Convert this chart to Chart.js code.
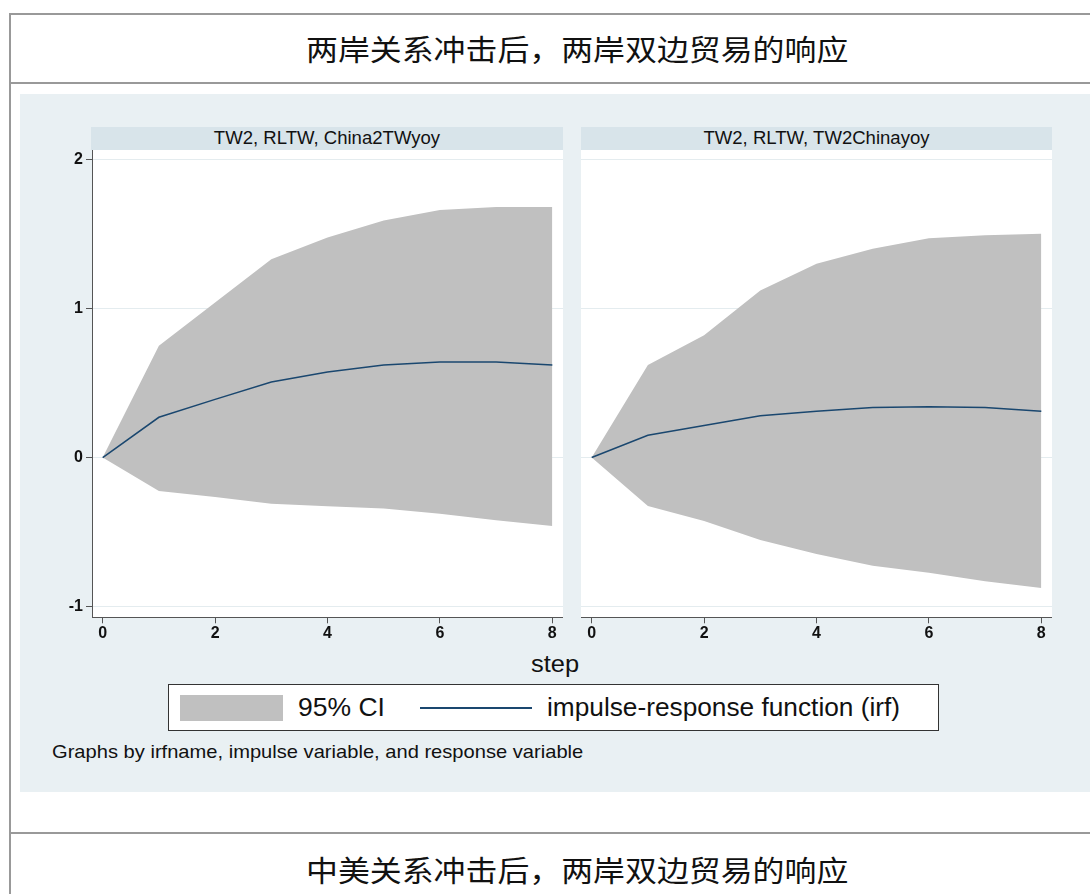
<!DOCTYPE html>
<html><head><meta charset="utf-8">
<script src="https://cdn.jsdelivr.net/npm/chart.js@4.4.1/dist/chart.umd.min.js"></script>
<style>
html,body{margin:0;padding:0;background:#fff;}
body{width:1090px;height:894px;position:relative;overflow:hidden;font-family:"Liberation Sans",Arial,Helvetica,sans-serif;color:#111;}
.abs{position:absolute;white-space:nowrap;}
.hl{position:absolute;left:9px;width:1081px;height:2px;background:#999;}
.title{position:absolute;left:306px;font-family:"Noto Sans CJK SC",sans-serif;font-size:29px;line-height:29px;transform:scaleX(1.1);transform-origin:left top;white-space:nowrap;color:#111;}
.strip{position:absolute;top:127px;height:22.5px;background:#d8e4ea;}
.striptxt{position:absolute;left:0;right:0;top:3.2px;text-align:center;font-size:17.5px;line-height:17.5px;transform:scaleX(1.06);white-space:nowrap;color:#111;}
.t{position:absolute;white-space:nowrap;transform-origin:left top;}
</style>
</head>
<body>
<div class="abs" style="left:9px;top:13px;width:1.5px;height:881px;background:#999;"></div>
<div class="hl" style="top:13px;"></div>
<div class="hl" style="top:82px;"></div>
<div class="hl" style="top:832px;"></div>
<div class="title" id="title1" style="top:34px;"></div>
<div class="title" id="title2" style="top:855px;"></div>

<div class="abs" style="left:20px;top:93.5px;width:1070px;height:698px;background:#e9f0f3;"></div>
<div class="strip" style="left:91px;width:472px;"><div class="striptxt" id="strip1"></div></div>
<div class="strip" style="left:581px;width:471px;"><div class="striptxt" id="strip2"></div></div>

<div class="abs" style="left:30px;top:150px;"><canvas id="c1" width="533" height="500"></canvas></div>
<div class="abs" style="left:581px;top:150px;"><canvas id="c2" width="471" height="500"></canvas></div>

<div class="t" id="xtitle" style="left:531px;top:651.7px;font-size:24px;line-height:24px;transform:scaleX(1.06);"></div>

<div class="abs" style="left:168px;top:684px;width:771px;height:46.5px;border:1.5px solid #333;background:#fff;box-sizing:border-box;"></div>
<div class="abs" style="left:180px;top:695px;width:103px;height:26px;background:#c0c0c0;"></div>
<div class="t" id="leg1" style="left:298px;top:694.8px;font-size:25px;line-height:25px;transform:scaleX(1.06);"></div>
<div class="abs" style="left:420px;top:707px;width:112px;height:2px;background:#1a476f;"></div>
<div class="t" id="leg2" style="left:547px;top:694.8px;font-size:25px;line-height:25px;transform:scaleX(1.05);"></div>

<div class="t" id="note" style="left:52px;top:742.2px;font-size:19px;line-height:19px;transform:scaleX(1.059);"></div>

<script>
// ---- data ----
const pageTitles = ['两岸关系冲击后，两岸双边贸易的响应', '中美关系冲击后，两岸双边贸易的响应'];
const panelTitles = ['TW2, RLTW, China2TWyoy', 'TW2, RLTW, TW2Chinayoy'];
const xAxisTitle = 'step';
const legendLabels = ['95% CI', 'impulse-response function (irf)'];
const noteText = 'Graphs by irfname, impulse variable, and response variable';
const steps = [0, 1, 2, 3, 4, 5, 6, 7, 8];
const xTickValues = [0, 2, 4, 6, 8];
const yTickValues = [-1, 0, 1, 2];
const leftIrf   = [0, 0.27, 0.39, 0.506, 0.573, 0.62, 0.64, 0.64, 0.62];
const leftUpper = [0, 0.75, 1.04, 1.33, 1.475, 1.59, 1.66, 1.68, 1.68];
const leftLower = [0, -0.225, -0.264, -0.31, -0.327, -0.342, -0.376, -0.42, -0.459];
const rightIrf   = [0, 0.15, 0.215, 0.28, 0.31, 0.335, 0.34, 0.335, 0.31];
const rightUpper = [0, 0.62, 0.82, 1.12, 1.30, 1.40, 1.47, 1.49, 1.50];
const rightLower = [0, -0.325, -0.425, -0.553, -0.647, -0.725, -0.773, -0.83, -0.875];

document.getElementById('title1').textContent = pageTitles[0];
document.getElementById('title2').textContent = pageTitles[1];
document.getElementById('strip1').textContent = panelTitles[0];
document.getElementById('strip2').textContent = panelTitles[1];
document.getElementById('xtitle').textContent = xAxisTitle;
document.getElementById('leg1').textContent = legendLabels[0];
document.getElementById('leg2').textContent = legendLabels[1];
document.getElementById('note').textContent = noteText;

const plotBg = {
  id: 'plotBg',
  beforeDraw(chart) {
    const a = chart.chartArea, ctx = chart.ctx;
    ctx.save(); ctx.fillStyle = '#ffffff';
    ctx.fillRect(a.left, a.top, a.right - a.left, a.bottom - a.top);
    ctx.restore();
  }
};

function makeChart(id, upper, lower, irf, showY) {
  const pts = arr => steps.map((s, i) => ({x: s, y: arr[i]}));
  return new Chart(document.getElementById(id), {
    type: 'line',
    data: {datasets: [
      {label: legendLabels[0], data: pts(upper), fill: '+1', backgroundColor: '#c0c0c0',
       borderWidth: 0, borderColor: 'rgba(0,0,0,0)', pointRadius: 0, tension: 0, order: 2},
      {label: 'lower', data: pts(lower), fill: false, borderWidth: 0,
       borderColor: 'rgba(0,0,0,0)', pointRadius: 0, tension: 0, order: 3},
      {label: legendLabels[1], data: pts(irf), fill: false, borderColor: '#1a476f',
       borderWidth: 1.5, pointRadius: 0, tension: 0, order: 0}
    ]},
    options: {
      responsive: false, animation: false, maintainAspectRatio: false,
      layout: {padding: 0},
      plugins: {legend: {display: false}, tooltip: {enabled: false}},
      scales: {
        x: {
          type: 'linear', min: -0.19, max: 8.19,
          afterBuildTicks: s => { s.ticks = xTickValues.map(v => ({value: v})); },
          afterFit: s => { s.height = 32.7; s.paddingLeft = 0; s.paddingRight = 0; },
          grid: {drawOnChartArea: false, tickLength: 6, tickColor: '#555', color: '#555'},
          border: {color: '#555', width: 1},
          ticks: {font: {family: 'Liberation Sans', size: 16, weight: 'bold'}, color: '#111',
                  padding: 1, maxRotation: 0, autoSkip: false}
        },
        y: {
          type: 'linear', min: -1.071, max: 2.062,
          afterBuildTicks: s => { s.ticks = yTickValues.map(v => ({value: v})); },
          afterFit: s => { s.width = showY ? 62 : 0; s.paddingTop = 0; s.paddingBottom = 0; },
          grid: {color: '#e4ecef', lineWidth: 1, tickLength: showY ? 6 : 0, drawTicks: showY, tickColor: '#555'},
          border: {display: showY, color: '#555', width: 1},
          ticks: {display: showY, font: {family: 'Liberation Sans', size: 16, weight: 'bold'},
                  color: '#111', padding: 3}
        }
      }
    },
    plugins: [plotBg]
  });
}
makeChart('c1', leftUpper, leftLower, leftIrf, true);
makeChart('c2', rightUpper, rightLower, rightIrf, false);
</script>
</body></html>
